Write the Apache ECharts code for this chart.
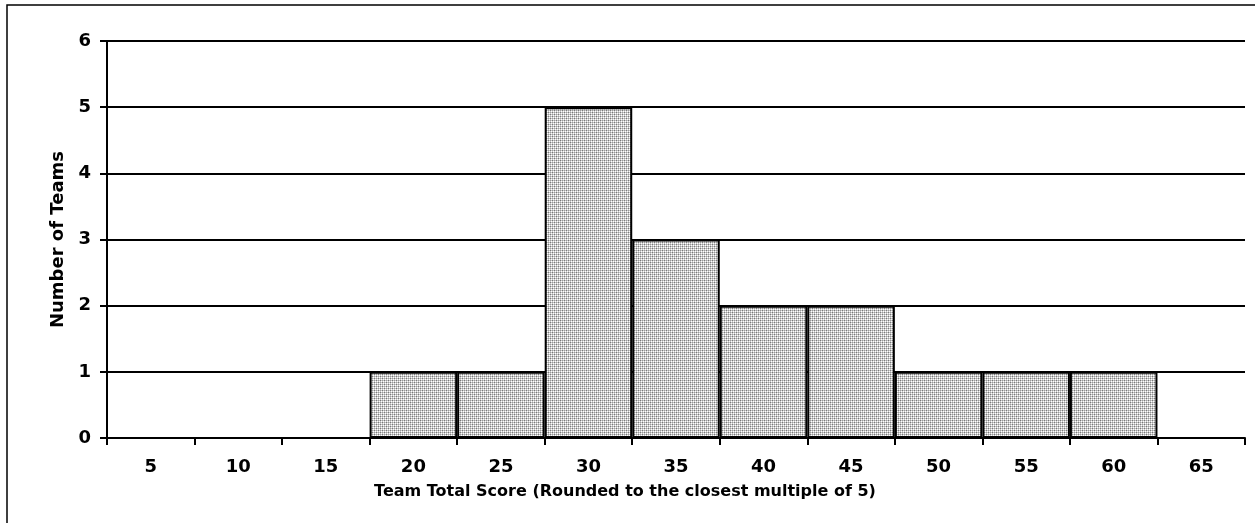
<!DOCTYPE html>
<html>
<head>
<meta charset="utf-8">
<script src="https://cdn.jsdelivr.net/npm/echarts@6/dist/echarts.min.js"></script>
<style>
html,body{margin:0;padding:0;background:#fff;}
#chart{width:1255px;height:523px;}
</style>
</head>
<body>
<div id="chart"></div>
<script>
const categories = ['5','10','15','20','25','30','35','40','45','50','55','60','65'];
const teamCounts = [0,0,0,1,1,5,3,2,2,1,1,1,0];
const yTicks = [0,1,2,3,4,5,6];

// dotted gray mesh fill pattern
const pat = document.createElement('canvas');
pat.width = 4; pat.height = 4;
const pc = pat.getContext('2d');
pc.fillStyle = '#ffffff'; pc.fillRect(0,0,4,4);
pc.fillStyle = '#c8c8c8';
pc.fillRect(0,0,1,4); pc.fillRect(2,0,1,4);
pc.fillRect(0,0,4,1); pc.fillRect(0,2,4,1);
pc.fillStyle = '#7a7a7a';
pc.fillRect(0,0,1,1); pc.fillRect(2,2,1,1);
pc.fillStyle = '#9a9a9a';
pc.fillRect(2,0,1,1); pc.fillRect(0,2,1,1);

const FONT = '"DejaVu Sans", sans-serif';
const chart = echarts.init(document.getElementById('chart'), null, {renderer:'canvas'});
chart.setOption({
  animation:false,
  backgroundColor:'#fff',
  grid:{left:107,right:10,top:41,bottom:85,containLabel:false},
  graphic:[{type:'rect',shape:{x:7,y:5,width:1260,height:530},style:{fill:'none',stroke:'#000',lineWidth:1.5},silent:true,z:-1}],
  xAxis:{
    type:'category',
    data:categories,
    name:'Team Total Score (Rounded to the closest multiple of 5)',
    nameLocation:'middle',
    nameGap:46,
    nameTextStyle:{fontFamily:FONT,fontWeight:'bold',fontSize:16,color:'#000',padding:[0,102,0,0]},
    axisLine:{lineStyle:{color:'#000',width:2}},
    axisTick:{show:true,interval:0,length:7,lineStyle:{color:'#000',width:2}},
    axisLabel:{interval:0,margin:20,fontFamily:FONT,fontWeight:'bold',fontSize:18,color:'#000'},
    splitLine:{show:false}
  },
  yAxis:{
    type:'value',
    min:0,max:6,interval:1,
    name:'Number of Teams',
    nameLocation:'middle',
    nameGap:40,
    nameTextStyle:{fontFamily:FONT,fontWeight:'bold',fontSize:18,color:'#000'},
    axisLine:{show:true,lineStyle:{color:'#000',width:2}},
    axisTick:{show:true,length:7,lineStyle:{color:'#000',width:2}},
    axisLabel:{margin:16,fontFamily:FONT,fontWeight:'bold',fontSize:18,color:'#000',
      formatter:v=>yTicks.includes(v)?String(v):''},
    splitLine:{show:true,lineStyle:{color:'#000',width:2}}
  },
  series:[{
    type:'bar',
    data:teamCounts,
    barCategoryGap:'0%',
    itemStyle:{color:{image:pat,repeat:'repeat'},borderColor:'#000',borderWidth:2},
    emphasis:{disabled:true}
  }]
});
</script>
</body>
</html>
